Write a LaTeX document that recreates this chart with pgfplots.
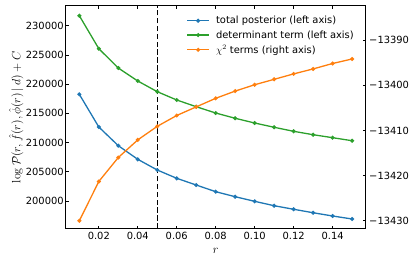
\documentclass[border=0pt]{standalone}
\usepackage{pgfplots}
\pgfplotsset{compat=1.18}
\usepackage[no-math]{fontspec}
\setmainfont{DejaVu Sans}
\definecolor{tblue}{HTML}{1F77B4}
\definecolor{torange}{HTML}{FF7F0E}
\definecolor{tgreen}{HTML}{2CA02C}
\begin{document}
\begin{tikzpicture}
\pgfplotsset{
  every axis/.append style={font=\fontsize{9.9}{11.5}\selectfont},
  common/.style={
    scale only axis, width=300pt, height=223pt,
    xmin=0.003, xmax=0.157,
    tick align=inside, major tick length=3pt,
    every tick/.style={black, line width=0.7pt},
    axis line style={line width=0.8pt},
  },
}
\begin{axis}[common, name=ax,
  ymin=195267, ymax=233422,
  xtick={0.02,0.04,0.06,0.08,0.10,0.12,0.14},
  xticklabels={0.02,0.04,0.06,0.08,0.10,0.12,0.14},
  ytick={200000,205000,210000,215000,220000,225000,230000},
  yticklabels={200000,205000,210000,215000,220000,225000,230000},
  yticklabel style={xshift=1.5pt},
  xtick pos=both, ytick pos=left,
  xlabel={$r$},
  xlabel style={at={(axis description cs:0.5,-0.098)}, anchor=center, font=\fontsize{12}{14}\selectfont},
  ylabel={$\log\mathcal{P}(r,\hat{f}(r),\hat{\phi}(r)\,|\,d)+C$},
  ylabel style={at={(axis description cs:-0.165,0.5)}, anchor=center, font=\fontsize{12}{14}\selectfont},
  legend style={draw=none, fill=none, at={(axis description cs:0.4033,0.962)}, anchor=north west,
    inner sep=0pt, outer sep=0pt, row sep=1.4pt, column sep=4.5pt,
    cells={anchor=west, inner sep=0pt}},
  legend image code/.code={\draw[mark repeat=2, mark phase=2] plot coordinates {(0pt,0pt) (10.8pt,0pt) (21.6pt,0pt)};},
]
\addplot[line width=1.3pt, mark=*, mark size=1.3pt, color=tblue] coordinates {
(0.01,218260) (0.02,212667) (0.03,209470) (0.04,207140) (0.05,205310)
(0.06,203890) (0.07,202740) (0.08,201600) (0.09,200740) (0.10,199950)
(0.11,199200) (0.12,198590) (0.13,198000) (0.14,197440) (0.15,196930)};
\addlegendentry{total posterior (left axis)}
\addplot[line width=1.3pt, mark=*, mark size=1.3pt, color=tgreen] coordinates {
(0.01,231710) (0.02,226065) (0.03,222762) (0.04,220540) (0.05,218710)
(0.06,217290) (0.07,216140) (0.08,215060) (0.09,214160) (0.10,213350)
(0.11,212620) (0.12,211930) (0.13,211350) (0.14,210840) (0.15,210320)};
\addlegendentry{determinant term (left axis)}
\addlegendimage{line width=1.3pt, mark=*, mark size=1.3pt, color=torange}
\addlegendentry{$\chi^2$ terms (right axis)}
\addplot[black, line width=1.2pt, dash pattern=on 5.5pt off 2.4pt, forget plot] coordinates {(0.05,195267) (0.05,233422)};
\end{axis}
\begin{axis}[common,
  ymin=-13431.75, ymax=-13382.41,
  axis x line=none, axis y line*=right, ytick pos=right,
  xtick=\empty,
  ytick={-13430,-13420,-13410,-13400,-13390},
  yticklabels={−13430,−13420,−13410,−13400,−13390},
]
\addplot[line width=1.3pt, mark=*, mark size=1.3pt, color=torange] coordinates {
(0.01,-13430.0) (0.02,-13421.3) (0.03,-13416.0) (0.04,-13412.1) (0.05,-13409.1)
(0.06,-13406.7) (0.07,-13404.8) (0.08,-13402.9) (0.09,-13401.3) (0.10,-13399.9)
(0.11,-13398.7) (0.12,-13397.5) (0.13,-13396.4) (0.14,-13395.2) (0.15,-13394.2)};
\end{axis}
\pgfresetboundingbox
\path[use as bounding box] ([xshift=-65.7pt,yshift=-34.3pt]ax.south west) rectangle ([xshift=49.3pt,yshift=5.7pt]ax.north east);
\end{tikzpicture}
\end{document}
